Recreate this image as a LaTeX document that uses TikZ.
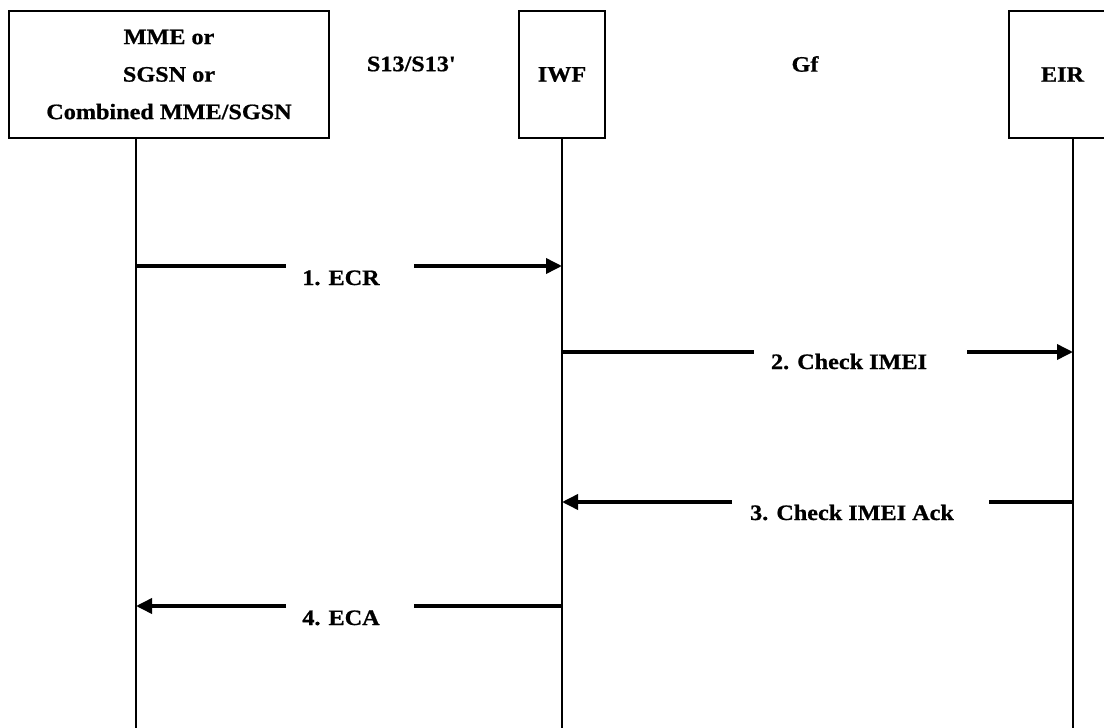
\documentclass[tikz,border=0pt]{standalone}
\usepackage{fontspec}
\setmainfont{Liberation Serif}[FakeStretch=1.1, BoldFeatures={FakeBold=0.8}]
\usepackage{tikz}
\usetikzlibrary{arrows.meta,positioning}

\begin{document}
\begin{tikzpicture}[
    x=1pt, y=-1pt,
    font=\bfseries\fontsize{22}{37.5}\selectfont,
    entity/.style={draw, line width=1.2pt, align=center, minimum height=127pt, inner sep=0pt},
    lifeline/.style={line width=1.3pt},
    msg/.style={line width=3.6pt},
    arrow/.style={msg, -{Triangle[length=16pt, width=15pt]}},
    msglabel/.style={anchor=base, inner sep=0pt},
    iface/.style={inner sep=0pt}
  ]
    \useasboundingbox (0,0) rectangle (1104,728);

    \node[entity, minimum width=320pt] (mme) at (169,74.5) {MME or\\SGSN or\\Combined MME/SGSN};
    \node[entity, minimum width=86pt] (iwf) at (562,74.5) {IWF};
    \node[entity, minimum width=107pt] (eir) at (1062.5,74.5) {EIR};

    \node[iface] (s13) at (411,64) {S13/S13\textquotesingle};
    \node[iface] (gf) at (805,64) {Gf};

    \coordinate (mmeEnd) at (136,728);
    \coordinate (iwfEnd) at (562,728);
    \coordinate (eirEnd) at (1073,728);

    \draw[lifeline] (mme.south -| mmeEnd) -- (mmeEnd);
    \draw[lifeline] (iwf.south -| iwfEnd) -- (iwfEnd);
    \draw[lifeline] (eir.south -| eirEnd) -- (eirEnd);

    \node[msglabel] (ecr) at (341,285) {1. ECR};
    \node[msglabel] (chk) at (849,369) {2. Check IMEI};
    \node[msglabel] (ack) at (852,520) {3. Check IMEI Ack};
    \node[msglabel] (eca) at (341,625) {4. ECA};

    \coordinate (ecrL) at (286,266);
    \coordinate (ecrR) at (414,266);
    \coordinate (chkL) at (754,352);
    \coordinate (chkR) at (967,352);
    \coordinate (ackL) at (732,502);
    \coordinate (ackR) at (989,502);
    \coordinate (ecaL) at (286,606);
    \coordinate (ecaR) at (414,606);

    \draw[msg] (mmeEnd |- ecrL) -- (ecrL);
    \draw[arrow] (ecrR) -- (iwfEnd |- ecrR);
    \draw[msg] (iwfEnd |- chkL) -- (chkL);
    \draw[arrow] (chkR) -- (eirEnd |- chkR);
    \draw[msg] (eirEnd |- ackR) -- (ackR);
    \draw[arrow] (ackL) -- (iwfEnd |- ackL);
    \draw[msg] (iwfEnd |- ecaR) -- (ecaR);
    \draw[arrow] (ecaL) -- (mmeEnd |- ecaL);
  \end{tikzpicture}
\end{document}
